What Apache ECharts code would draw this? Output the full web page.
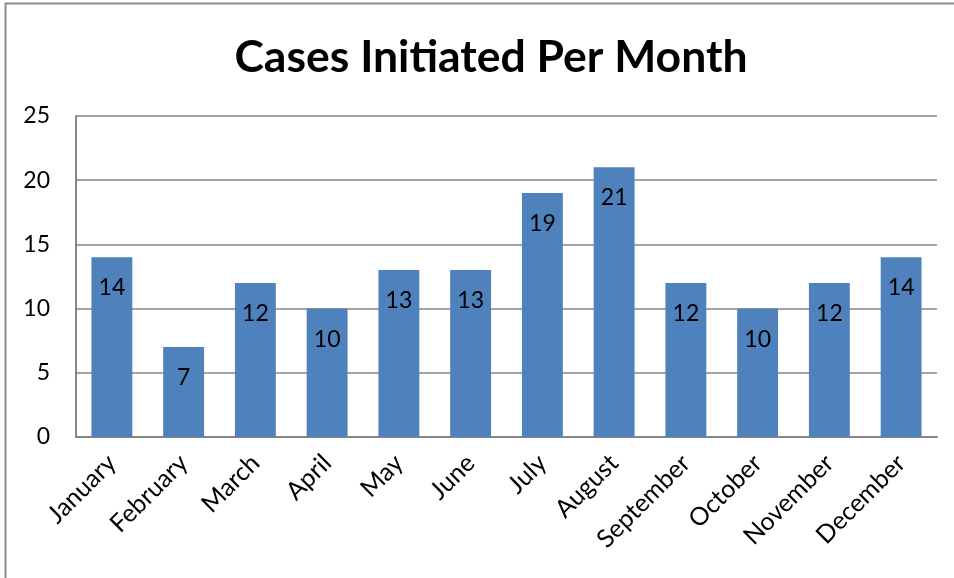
<!DOCTYPE html>
<html><head><meta charset="utf-8">
<script src="https://cdn.jsdelivr.net/npm/echarts@6/dist/echarts.min.js"></script>
<style>html,body{margin:0;padding:0;background:#fff}#c{width:954px;height:578px}</style>
</head><body><div id="c"></div>
<script>
const months = ["January","February","March","April","May","June","July","August","September","October","November","December"];
const cases = [14,7,12,10,13,13,19,21,12,10,12,14];
const yTicks = [0,5,10,15,20,25];

const chart = echarts.init(document.getElementById('c'));
const font = 'Lato, "Open Sans", sans-serif';
chart.setOption({
  animation:false,
  backgroundColor:'#fff',
  graphic:[{type:'rect',shape:{x:5.5,y:3.5,width:1000,height:700},style:{fill:'none',stroke:'#8c8c8c',lineWidth:2},silent:true}],
  title:{text:'Cases Initiated Per Month',left:486,textAlign:'center',top:30,textStyle:{fontFamily:font,fontWeight:'bold',fontSize:44.5,color:'#000'}},
  grid:{left:76,right:17,top:116,bottom:141,containLabel:false},
  xAxis:{type:'category',data:months,
    axisLine:{lineStyle:{color:'#868686',width:2}},axisTick:{show:false},
    axisLabel:{rotate:45,fontFamily:font,fontSize:25,color:'#000',margin:22,interval:0}},
  yAxis:{type:'value',min:yTicks[0],max:yTicks[yTicks.length-1],interval:5,
    axisLine:{show:true,lineStyle:{color:'#868686',width:2}},axisTick:{show:false},
    splitLine:{lineStyle:{color:'#868686',width:1.5}},
    axisLabel:{fontFamily:font,fontSize:23,color:'#000',margin:26}},
  series:[{type:'bar',data:cases,barWidth:'57%',
    itemStyle:{color:'#4F81BD'},
    label:{show:true,position:'insideTop',distance:19,fontFamily:font,fontSize:23,color:'#000'}}]
});
</script></body></html>
